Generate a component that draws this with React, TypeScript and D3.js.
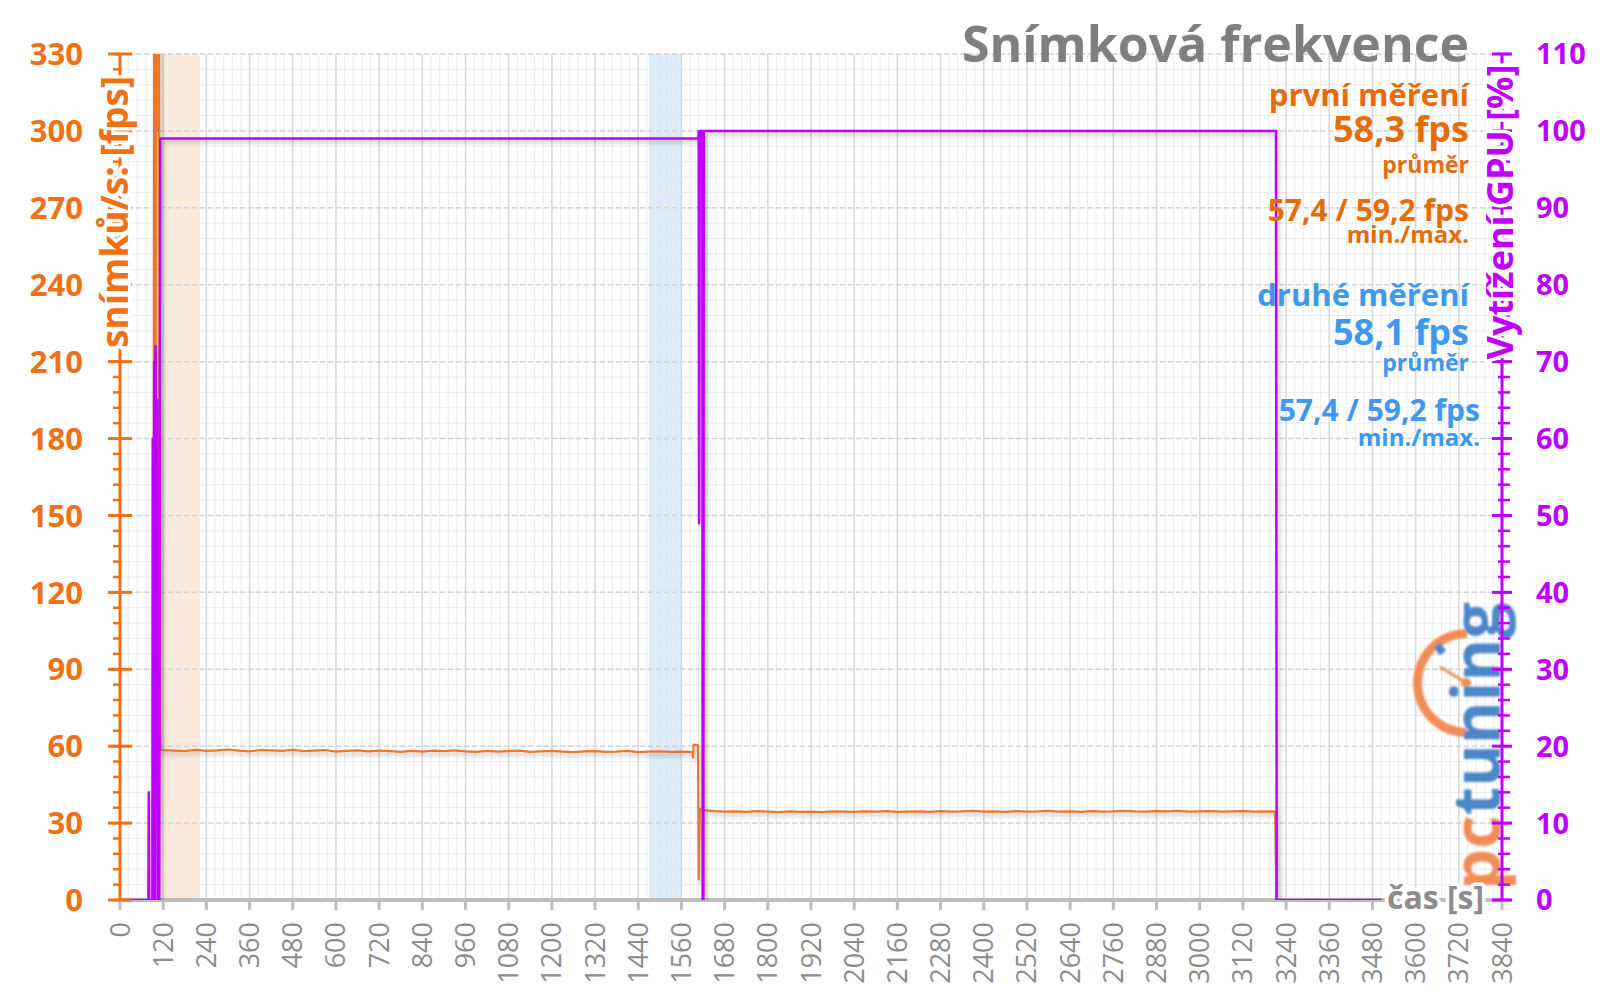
import React from 'react';
import * as d3 from 'd3';

const W = 1600, H = 998;
const PL = 120, PR = 1502, PT = 54, PB = 900;

const xTickLabels = [0,120,240,360,480,600,720,840,960,1080,1200,1320,1440,1560,1680,1800,1920,2040,2160,2280,2400,2520,2640,2760,2880,3000,3120,3240,3360,3480,3600,3720,3840];
const fpsTickLabels = [0,30,60,90,120,150,180,210,240,270,300,330];
const gpuTickLabels = [0,10,20,30,40,50,60,70,80,90,100,110];

// frame rate [s, fps]
const fpsStart: [number, number][] = [[90,0],[93,0],[95,420],[99,210],[101,420],[105,300],[108,420],[110,75],[113,58.6]];
const fpsRun1: [number, number][] = [[120,58.5],[150,58.3],[180,58.1],[210,58.6],[240,58.2],[270,58.4],[300,58.7],[330,58.3],[360,58.0],[390,58.5],[420,58.4],[450,58.2],[480,58.6],[510,58.1],[540,58.3],[570,58.5],[600,57.9],[630,58.2],[660,58.4],[690,58.0],[720,58.3],[750,58.1],[780,57.8],[810,58.2],[840,57.9],[870,58.3],[900,58.1],[930,58.4],[960,58.0],[990,57.8],[1020,58.2],[1050,57.9],[1080,58.1],[1110,58.3],[1140,57.8],[1170,58.0],[1200,58.2],[1230,57.9],[1260,57.7],[1290,58.0],[1320,58.1],[1350,57.8],[1380,57.9],[1410,58.2],[1440,57.7],[1470,57.9],[1500,58.0],[1530,57.8],[1560,57.9],[1590,57.7]];
const fpsSwitch: [number, number][] = [[1592,55.5],[1594,60.6],[1606,60.4],[1608,8],[1611,35.6]];
const fpsRun2: [number, number][] = [[1620,35.1],[1650,34.7],[1680,34.5],[1710,34.6],[1740,34.4],[1770,34.7],[1800,34.5],[1830,34.3],[1860,34.6],[1890,34.4],[1920,34.5],[1950,34.3],[1980,34.6],[2010,34.5],[2040,34.4],[2070,34.6],[2100,34.5],[2130,34.7],[2160,34.4],[2190,34.5],[2220,34.6],[2250,34.4],[2280,34.7],[2310,34.5],[2340,34.6],[2370,34.8],[2400,34.5],[2430,34.6],[2460,34.4],[2490,34.7],[2520,34.5],[2550,34.6],[2580,34.8],[2610,34.5],[2640,34.6],[2670,34.4],[2700,34.7],[2730,34.5],[2760,34.6],[2790,34.8],[2820,34.6],[2850,34.5],[2880,34.7],[2910,34.6],[2940,34.8],[2970,34.5],[3000,34.6],[3030,34.7],[3060,34.5],[3090,34.6],[3120,34.7],[3150,34.5],[3180,34.6],[3210,34.5]];
const fpsEnd: [number, number][] = [[3213,0]];

// GPU load [s, %]
const gpuLoad: [number, number][] = [[0,0],[79,0],[80,14],[81,0],[90,0],[91,60],[93,5],[95,70],[97,0],[99,72],[101,20],[103,65],[105,0],[107,40],[109,0],[110,30],[112,99],[1607,99],[1608,100],[1609,49],[1611,100],[1618,100],[1619,0],[1621,0],[1622,100],[3212,100],[3214,0],[3505,0]];

// measurement windows [s]
const band1 = [118, 222];
const band2 = [1470, 1560];

const ORANGE = '#F07015';
const ORANGE_TXT = '#E46C0A';
const LINE_OR = '#E8782F';
const BLUE = '#3D98EE';
const PURPLE = '#C000FF';
const GREY = '#8C8C8C';
const FONT = "'Open Sans', sans-serif";

const halo = { stroke: '#fff', strokeWidth: 7, paintOrder: 'stroke', strokeLinejoin: 'round' } as any;

export default function App() {
  const x = d3.scaleLinear().domain([0, 3840]).range([PL, PR]);
  const yF = d3.scaleLinear().domain([0, 330]).range([PB, PT]);
  const yG = d3.scaleLinear().domain([0, 110]).range([PB, PT]);

  const fpsData = [...fpsStart, ...fpsRun1, ...fpsSwitch, ...fpsRun2, ...fpsEnd];
  const fpsLine = d3.line<[number, number]>().x(d => x(d[0])).y(d => yF(d[1]));
  const gpuLine = d3.line<[number, number]>().x(d => x(d[0])).y(d => yG(d[1]));

  const minorX = d3.range(0, 3841, 24);
  const minorY = d3.range(0, 331, 6);
  const minorG = d3.range(0, 111, 2);

  const arc = d3.arc()({ innerRadius: 45, outerRadius: 54, startAngle: Math.PI, endAngle: 2 * Math.PI } as any) as string;

  return (
    <svg width={W} height={H} style={{ position: 'absolute', left: 0, top: 0, background: '#fff' }} fontFamily={FONT}>
      <defs>
        <clipPath id="plot"><rect x={PL} y={PT} width={PR - PL} height={PB - PT} /></clipPath>
        <filter id="sh" x="-20%" y="-20%" width="140%" height="140%">
          <feDropShadow dx="2" dy="3" stdDeviation="2" floodColor="#000" floodOpacity="0.25" />
        </filter>
        <filter id="blur1"><feGaussianBlur stdDeviation="0.8" /></filter>
      </defs>
      <rect x={0} y={0} width={W} height={H} fill="#fff" />

      {/* bands */}
      <rect x={x(band1[0])} y={PT} width={x(band1[1]) - x(band1[0])} height={PB - PT} fill="#FBE3CF" opacity={0.75} />
      <rect x={x(band2[0])} y={PT} width={x(band2[1]) - x(band2[0])} height={PB - PT} fill="#D6E7F9" opacity={0.85} />

      {/* minor grid */}
      {minorX.map(v => (
        <line key={'mx' + v} x1={x(v)} x2={x(v)} y1={PT} y2={PB} stroke="#EDEDED" strokeWidth={1} />
      ))}
      {minorY.map(v => (
        <line key={'my' + v} x1={PL} x2={PR} y1={yF(v)} y2={yF(v)} stroke="#EDEDED" strokeWidth={1} />
      ))}
      {/* major grid */}
      {xTickLabels.map(v => (
        <line key={'gx' + v} x1={x(v)} x2={x(v)} y1={PT} y2={PB} stroke="#D9D9D9" strokeWidth={1.5} />
      ))}
      {fpsTickLabels.map(v => (
        <line key={'gy' + v} x1={PL} x2={PR} y1={yF(v)} y2={yF(v)} stroke="#D4D4D4" strokeWidth={1.5} strokeDasharray="5,3" />
      ))}

      {/* logo */}
      <g opacity={0.92} filter="url(#blur1)">
        <path d={arc} transform="translate(1467,683)" fill="#F0844A" />
        <rect x={1436} y={644} width={8} height={10} fill="#3C7DC4" transform="rotate(-35,1440,649)" />
        <line x1={1440} y1={667} x2={1465} y2={682} stroke="#F0844A" strokeWidth={3} />
        <circle cx={1466} cy={683} r={5} fill="#F0844A" />
        <text transform="translate(1500,890) rotate(-90)" fontSize={66} fontWeight={700} textLength={288} lengthAdjust="spacingAndGlyphs">
          <tspan fill="#F0844A">pc</tspan><tspan fill="#3C7DC4">tuning</tspan>
        </text>
      </g>

      {/* x axis */}
      <line x1={PL} x2={PR} y1={PB} y2={PB} stroke="#BDBDBD" strokeWidth={4} />
      {xTickLabels.map(v => (
        <g key={'xt' + v}>
          <line x1={x(v)} x2={x(v)} y1={PB} y2={PB + 10} stroke="#BDBDBD" strokeWidth={3} />
          <text transform={`translate(${x(v) + 9.5},922) rotate(-90)`} textAnchor="end" fontSize={27} fill={GREY}>{v}</text>
        </g>
      ))}

      {/* data */}
      <g clipPath="url(#plot)">
        <path d={fpsLine(fpsData) as string} fill="none" stroke={LINE_OR} strokeWidth={2.2} strokeLinejoin="round" filter="url(#sh)" />
        <path d={gpuLine(gpuLoad) as string} fill="none" stroke={PURPLE} strokeWidth={2.5} strokeLinejoin="round" filter="url(#sh)" />
      </g>

      {/* left axis */}
      <line x1={PL} x2={PL} y1={PT} y2={PB} stroke={ORANGE} strokeWidth={3} />
      {minorY.map(v => (
        <line key={'lm' + v} x1={PL - 7} x2={PL} y1={yF(v)} y2={yF(v)} stroke={ORANGE} strokeWidth={2.5} />
      ))}
      {fpsTickLabels.map(v => (
        <g key={'lt' + v}>
          <line x1={PL - 12} x2={PL + 12} y1={yF(v)} y2={yF(v)} stroke={ORANGE} strokeWidth={3} />
          <text x={83} y={yF(v)} dy="0.36em" textAnchor="end" fontSize={31} fontWeight={700} fill={ORANGE}>{v}</text>
        </g>
      ))}
      <text transform="translate(128,212) rotate(-90)" textAnchor="middle" fontSize={37} fontWeight={700} fill={ORANGE} {...halo}>snímků/s: [fps]</text>

      {/* right axis */}
      <line x1={PR} x2={PR} y1={PT} y2={PB} stroke={PURPLE} strokeWidth={3} />
      {minorG.map(v => (
        <line key={'rm' + v} x1={PR - 4} x2={PR + 8} y1={yG(v)} y2={yG(v)} stroke={PURPLE} strokeWidth={2.5} />
      ))}
      {gpuTickLabels.map(v => (
        <g key={'rt' + v}>
          <line x1={PR - 10} x2={PR + 10} y1={yG(v)} y2={yG(v)} stroke={PURPLE} strokeWidth={3} />
          <text x={1536} y={yG(v)} dy="0.36em" textAnchor="start" fontSize={29} fontWeight={700} fill={PURPLE}>{v}</text>
        </g>
      ))}
      <text transform="translate(1513,212) rotate(-90)" textAnchor="middle" fontSize={36} fontWeight={700} fill={PURPLE} {...halo}>Vytížení GPU [%]</text>

      {/* x title */}
      <text x={1387} y={909} fontSize={32} fontWeight={700} fill={GREY} {...halo}>čas [s]</text>

      {/* title */}
      <text x={1469} y={62} textAnchor="end" fontSize={50} fontWeight={700} fill="#7F7F7F">Snímková frekvence</text>

      {/* legend: first measurement */}
      <g textAnchor="end" fontWeight={700} fill={ORANGE_TXT}>
        <text x={1469} y={106} fontSize={31}>první měření</text>
        <text x={1469} y={142} fontSize={36}>58,3 fps</text>
        <text x={1469} y={173} fontSize={23}>průměr</text>
        <text x={1469} y={221} fontSize={30}>57,4 / 59,2 fps</text>
        <text x={1469} y={243} fontSize={24}>min./max.</text>
      </g>
      <g textAnchor="end" fontWeight={700} fill={BLUE}>
        <text x={1469} y={306} fontSize={31}>druhé měření</text>
        <text x={1469} y={345} fontSize={36}>58,1 fps</text>
        <text x={1469} y={371} fontSize={23}>průměr</text>
        <text x={1480} y={421} fontSize={30}>57,4 / 59,2 fps</text>
        <text x={1480} y={446} fontSize={24}>min./max.</text>
      </g>
    </svg>
  );
}
